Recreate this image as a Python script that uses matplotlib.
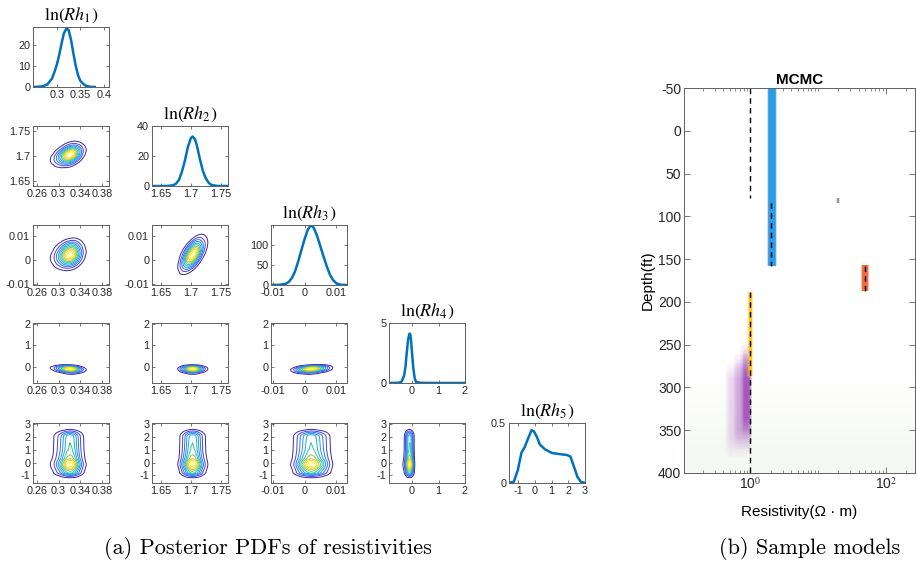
import numpy as np
import matplotlib.pyplot as plt
from matplotlib.colors import LinearSegmentedColormap
from matplotlib.ticker import NullFormatter, FixedLocator

plt.rcParams['font.family'] = ['Liberation Sans', 'DejaVu Sans']
plt.rcParams['mathtext.fontset'] = 'stix'
plt.rcParams['axes.unicode_minus'] = False

# marginal posterior PDFs
rh1_x = [0.25, 0.27, 0.28, 0.29, 0.295, 0.30, 0.305, 0.31, 0.315, 0.321, 0.325,
         0.33, 0.335, 0.34, 0.345, 0.35, 0.36, 0.37, 0.38]
rh1_pdf = [0, 0.3, 1.2, 4, 7, 10.5, 15, 20.5, 25.5, 28, 27, 22.5, 16, 10, 5.5,
           2.8, 0.7, 0.1, 0]
rh2_x = [1.635, 1.66, 1.67, 1.675, 1.68, 1.685, 1.69, 1.695, 1.70, 1.703, 1.707,
         1.71, 1.715, 1.72, 1.725, 1.73, 1.735, 1.745, 1.762]
rh2_pdf = [0, 0, 0.5, 1.5, 4, 9.5, 17, 26, 32, 33, 31, 27, 18, 10, 5, 2, 0.6, 0, 0]
rh3_x = [-0.0107, -0.008, -0.006, -0.005, -0.004, -0.003, -0.002, -0.001, 0,
         0.001, 0.002, 0.003, 0.004, 0.005, 0.006, 0.007, 0.008, 0.009, 0.010,
         0.011, 0.012, 0.0135]
rh3_pdf = [0, 0.5, 3, 8, 18, 35, 60, 88, 115, 138, 150, 142, 122, 97, 72, 48,
           27, 13, 5, 1.5, 0.3, 0]
rh4_x = [-0.87, -0.5, -0.4, -0.3, -0.25, -0.2, -0.15, -0.1, -0.07, -0.04, 0.0,
         0.05, 0.1, 0.15, 0.3, 0.5, 1.0, 2.0]
rh4_pdf = [0, 0.02, 0.1, 0.6, 1.3, 2.5, 3.6, 4.1, 4.1, 3.6, 2.5, 1.2, 0.4, 0.1,
           0.02, 0.01, 0, 0]
rh5_x = [-1.55, -1.26, -1.02, -0.81, -0.61, -0.41, -0.2, -0.06, 0.1, 0.3, 0.61,
         1.02, 1.52, 1.93, 2.13, 2.34, 2.54, 2.74, 3.0]
rh5_pdf = [0, 0.011, 0.108, 0.25, 0.30, 0.37, 0.44, 0.43, 0.39, 0.32, 0.28, 0.25,
           0.24, 0.233, 0.22, 0.136, 0.053, 0.011, 0]

pdf_x = [rh1_x, rh2_x, rh3_x, rh4_x, rh5_x]
pdf_y = [rh1_pdf, rh2_pdf, rh3_pdf, rh4_pdf, rh5_pdf]

# tilt of each pair density (row = Rh_{r+1}, col = Rh_{c+1})
pair_slope = [[],
              [0.3],
              [0.04, 0.2],
              [-1.2, 0.0, 8.0],
              [0.0, 0.0, 0.0, 0.0]]

# axis settings
diag_xlim = [(0.25, 0.41), (1.635, 1.762), (-0.0107, 0.0135), (-0.87, 2.0), (-1.55, 3.0)]
diag_xticks = [[0.3, 0.35, 0.4], [1.65, 1.7, 1.75], [-0.01, 0, 0.01], [0, 1, 2], [-1, 0, 1, 2, 3]]
diag_ylim = [(0, 28.5), (0, 40), (0, 150), (0, 5), (0, 0.5)]
diag_yticks = [[0, 10, 20], [0, 20, 40], [0, 50, 100], [0, 5], [0, 0.5]]
col_xlim = [(0.253, 0.393), (1.635, 1.762), (-0.0107, 0.0135), (-0.87, 2.0)]
col_xticks = [[0.26, 0.3, 0.34, 0.38], [1.65, 1.7, 1.75], [-0.01, 0, 0.01], [0, 1, 2]]
row_ylim = [None, (1.64, 1.76), (-0.0105, 0.0145), (-0.75, 2.05), (-1.6, 3.1)]
row_yticks = [None, [1.65, 1.7, 1.75], [-0.01, 0, 0.01], [0, 1, 2], [-1, 0, 1, 2, 3]]

parula = LinearSegmentedColormap.from_list('parula', [
    (0.2422, 0.1504, 0.6603), (0.2810, 0.3228, 0.9579), (0.1786, 0.5289, 0.9682),
    (0.0689, 0.6948, 0.8394), (0.2161, 0.7843, 0.5923), (0.6720, 0.7793, 0.2227),
    (0.9970, 0.7659, 0.2199), (0.9769, 0.9839, 0.0805)])

W, H = 917, 574
fig = plt.figure(figsize=(9.17, 5.74), dpi=100)

col_left = [33, 152, 271, 389, 509]
row_top = [27, 126, 225, 323, 423]
aw, ah = 76, 60


def style(ax, size=7.8):
    for s in ax.spines.values():
        s.set_color('#606060')
        s.set_linewidth(0.7)
    ax.tick_params(direction='in', length=2, width=0.6, labelsize=size,
                   colors='#606060', labelcolor='#262626', top=True, right=True, pad=2)


def fmt(v):
    return '%g' % v


for r in range(5):
    for c in range(r + 1):
        ax = fig.add_axes([col_left[c] / W, 1 - (row_top[r] + ah) / H, aw / W, ah / H])
        style(ax)
        if r == c:
            ax.plot(pdf_x[r], pdf_y[r], color='#0072BD', lw=1.8)
            ax.set_xlim(diag_xlim[r])
            ax.set_ylim(diag_ylim[r])
            ax.set_xticks(diag_xticks[r])
            ax.set_xticklabels([fmt(v) for v in diag_xticks[r]])
            ax.set_yticks(diag_yticks[r])
            ax.set_yticklabels([fmt(v) for v in diag_yticks[r]])
            ax.set_title(r'$\ln(Rh_{%d})$' % (r + 1), fontsize=13, pad=5)
        else:
            xl, yl = col_xlim[c], row_ylim[r]
            gx = np.linspace(xl[0], xl[1], 240)
            gy = np.linspace(yl[0], yl[1], 240)
            X, Y = np.meshgrid(gx, gy)
            cx = pdf_x[c][int(np.argmax(pdf_y[c]))]
            px = np.interp(X, pdf_x[c], pdf_y[c])
            py = np.interp(Y - pair_slope[r][c] * (X - cx), pdf_x[r], pdf_y[r])
            Z = px * py
            levels = np.linspace(0, Z.max(), 12)[1:-1]
            ax.contour(X, Y, Z, levels=levels, cmap=parula, linewidths=0.7)
            ax.set_xlim(xl)
            ax.set_ylim(yl)
            ax.set_xticks(col_xticks[c])
            ax.set_xticklabels([fmt(v) for v in col_xticks[c]])
            ax.set_yticks(row_yticks[r])
            ax.set_yticklabels([fmt(v) for v in row_yticks[r]])

# ---- (b) sample models ----
true_res = [1.0, 2.0, 50.0, 1.0]
true_top = [-50, 84, 158, 188]
true_bot = [79, 158, 187, 400]
band_res = [2.1, 50.0, 1.0, 20.0]
band_top = [-50, 157, 188, 78]
band_bot = [158, 187, 287, 84]
band_col = ['#2e9be6', '#f26d3d', '#ffc61e', '#8a8a8a']
band_lw = [5.5, 4.5, 2.5, 1.2]
cloud_lo = [0.46, 0.6, 0.76]
cloud_hi = [1.02, 1.0, 1.0]
cloud_top = [280, 268, 258]
cloud_bot = [372, 362, 348]
cloud_alpha = [0.2, 0.25, 0.42]
green_top = [295, 325, 355]
green_alpha = [0.03, 0.03, 0.03]

axr = fig.add_axes([684 / W, 1 - 473 / H, (915 - 684) / W, (473 - 88) / H])
style(axr, size=10)
axr.set_xscale('log')

# soft-edged shading for the ensemble of sampled models
gxr = np.logspace(-1, 2.45, 260)
gdr = np.linspace(-50, 400, 300)
LX, D = np.meshgrid(np.log10(gxr), gdr)


def ramp(u, soft):
    return np.clip(u / soft + 0.5, 0, 1)


purple = np.zeros_like(LX)
for lo, hi, t, b, a in zip(cloud_lo, cloud_hi, cloud_top, cloud_bot, cloud_alpha):
    purple += a * ramp(LX - np.log10(lo), 0.08) * ramp(np.log10(hi) - LX, 0.04) \
        * ramp(D - t, 20) * ramp(b - D, 25)
green = np.zeros_like(LX)
for t, a in zip(green_top, green_alpha):
    green += a * ramp(D - t, 25)

cm_green = LinearSegmentedColormap.from_list('g', [(0.6, 0.75, 0.5, 0), (0.6, 0.75, 0.5, 1)])
cm_purple = LinearSegmentedColormap.from_list('p', [(0.6, 0.26, 0.7, 0), (0.6, 0.26, 0.7, 1)])
axr.pcolormesh(gxr, gdr, green, cmap=cm_green, vmin=0, vmax=1, shading='nearest',
               rasterized=True)
axr.pcolormesh(gxr, gdr, purple, cmap=cm_purple, vmin=0, vmax=1, shading='nearest',
               rasterized=True)

for x, t, b, c, lw in zip(band_res, band_top, band_bot, band_col, band_lw):
    axr.plot([x, x], [t, b], color=c, lw=lw + 1.5, alpha=0.3, solid_capstyle='butt')
    axr.plot([x, x], [t, b], color=c, lw=lw, solid_capstyle='butt')
for x, t, b in zip(true_res, true_top, true_bot):
    axr.plot([x, x], [t, b], color='black', lw=1.0, ls=(0, (4, 3)))

axr.xaxis.set_major_locator(FixedLocator([1, 100]))
axr.set_xticklabels(['10$^0$', '10$^2$'])
minor = [m * 10.0 ** k for k in (-1, 0, 1, 2) for m in range(1, 10)]
axr.xaxis.set_minor_locator(FixedLocator([v for v in minor if v not in (1, 100)]))
axr.xaxis.set_minor_formatter(NullFormatter())
axr.set_yticks(np.arange(-50, 401, 50))
axr.set_xlim(0.105, 270)
axr.set_ylim(400, -50)
axr.tick_params(which='major', length=4)
axr.tick_params(which='minor', direction='in', length=2, width=0.5, colors='#606060',
                top=True)
axr.set_title('MCMC', fontsize=11, fontweight='bold', pad=3)
axr.set_ylabel('Depth(ft)', fontsize=11, labelpad=2)
axr.set_xlabel('Resistivity(\u03a9 \u00b7 m)', fontsize=11, labelpad=10)

fig.text(268 / W, 1 - 549 / H, '(a) Posterior PDFs of resistivities', fontfamily='cmr10',
         fontsize=16, ha='center', va='center')
fig.text(810 / W, 1 - 549 / H, '(b) Sample models', fontfamily='cmr10',
         fontsize=16, ha='center', va='center')

fig.savefig('out.png', dpi=100)
